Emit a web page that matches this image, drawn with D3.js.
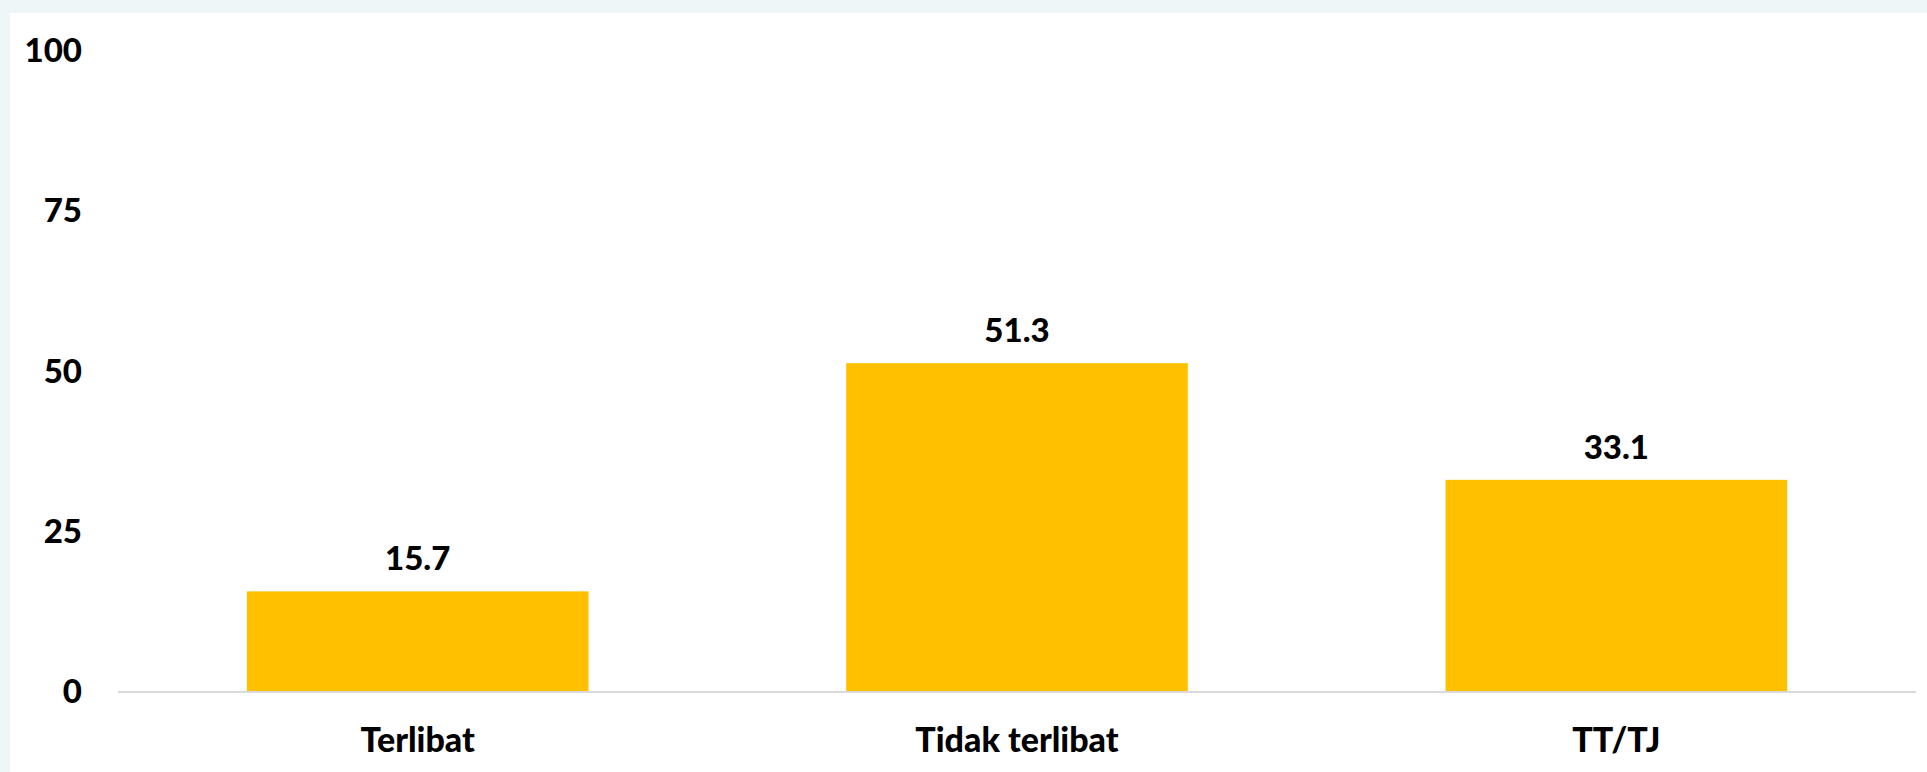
<!DOCTYPE html>
<html>
<head>
<meta charset="utf-8">
<script src="https://cdn.jsdelivr.net/npm/d3@7/dist/d3.min.js"></script>
<style>
	html, body { margin: 0; padding: 0; background: #eef6f8; }
	svg { display: block; }
	text { font-family: Lato, "Open Sans", sans-serif; font-weight: 900; fill: #000; }
</style>
</head>
<body>
<svg id="chart" width="1927" height="772"></svg>
<script>
var categories = ['Terlibat', 'Tidak terlibat', 'TT/TJ'];
var values = [15.7, 51.3, 33.1];
var yTicks = [0, 25, 50, 75, 100];

var width = 1927,
	height = 772,
	margin = {top: 51, right: 11, bottom: 80, left: 118};

var svg = d3.select('#chart');

// white panel over the light background
svg.append('rect')
	.attr('x', 10)
	.attr('y', 13)
	.attr('width', width - 10)
	.attr('height', height - 13)
	.attr('fill', '#fff');

var x = d3.scaleBand()
	.domain(categories)
	.range([margin.left, width - margin.right])
	.paddingInner(0.43)
	.paddingOuter(0.215);

var y = d3.scaleLinear()
	.domain([0, 100])
	.range([height - margin.bottom, margin.top]);

var yAxis = svg.append('g')
	.attr('transform', 'translate(' + margin.left + ',0)')
	.call(d3.axisLeft(y).tickValues(yTicks).tickSize(0).tickPadding(36));

yAxis.select('.domain').remove();
yAxis.selectAll('text')
	.attr('font-size', 33)
	.attr('font-family', null);

svg.selectAll('.bar')
	.data(values)
	.enter()
	.append('rect')
	.attr('class', 'bar')
	.attr('x', function(d, i){ return x(categories[i]); })
	.attr('y', function(d){ return y(d); })
	.attr('width', x.bandwidth())
	.attr('height', function(d){ return y(0) - y(d); })
	.attr('fill', '#ffc000');

// baseline
svg.append('line')
	.attr('x1', margin.left)
	.attr('x2', width - margin.right)
	.attr('y1', y(0))
	.attr('y2', y(0))
	.attr('stroke', '#d9d9d9')
	.attr('stroke-width', 2);

svg.selectAll('.value-label')
	.data(values)
	.enter()
	.append('text')
	.attr('class', 'value-label')
	.attr('x', function(d, i){ return x(categories[i]) + x.bandwidth() / 2; })
	.attr('y', function(d){ return y(d) - 21; })
	.attr('text-anchor', 'middle')
	.attr('font-size', 33)
	.text(function(d){ return d.toFixed(1); });

svg.selectAll('.cat-label')
	.data(categories)
	.enter()
	.append('text')
	.attr('class', 'cat-label')
	.attr('x', function(c){ return x(c) + x.bandwidth() / 2; })
	.attr('y', 752)
	.attr('text-anchor', 'middle')
	.attr('font-size', 34)
	.text(function(c){ return c; });
</script>
</body>
</html>
